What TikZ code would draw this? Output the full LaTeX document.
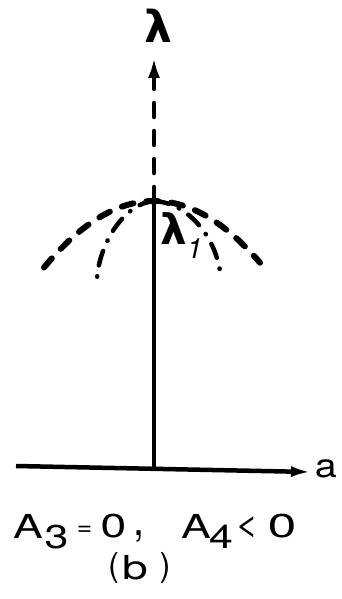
\documentclass[tikz,border=0pt]{standalone}
\usepackage{fontspec}
\setmainfont{TeX Gyre Heros}
\newfontfamily\symf{DejaVu Sans}
\usetikzlibrary{arrows.meta}
\tikzset{
  axisline/.style={line width=4.5pt},
  dashaxis/.style={line width=4.5pt, line cap=round, dash pattern=on 14pt off 14pt},
  domeline/.style={line width=6pt, line cap=round, dash pattern=on 12pt off 13pt},
  dotdash/.style={line width=4.5pt, line cap=round, dash pattern=on 15pt off 11pt on 0.5pt off 11pt},
  lbl/.style={inner sep=0pt, font=\fontsize{33}{36}\selectfont},
  bigtip/.style={-{Latex[length=21pt,width=12pt]}},
  smalltip/.style={-{Latex[length=20pt,width=11pt]}}
}
\newcommand\wide[2]{\scalebox{#1}[1]{#2}}
\begin{document}
\begin{tikzpicture}[x=1pt,y=-1pt]
\useasboundingbox (0,0) rectangle (341,599);
\coordinate (O) at (154,468);
\coordinate (top) at (154,201);
\coordinate (ytip) at (154,57);
\coordinate (xl) at (16,466);
\coordinate (xr) at (311,472);
\coordinate (il) at (97,279);
\coordinate (ir) at (221,279);
% axes
\draw[axisline] (O) -- (top);
\draw[dashaxis, bigtip] (top) -- (ytip);
\draw[axisline, smalltip] (xl) -- (xr);
% dome
\draw[domeline] plot[domain=-110:106, samples=60] ({154+\x},{201+0.0055*\x*\x});
% inner dash-dot curves
\draw[dotdash] (top) .. controls (125,203) and (99,243) .. (il);
\draw[dotdash] (top) .. controls (190,203) and (218,240) .. (ir);
% labels
\node[lbl, font=\fontsize{44}{46}\selectfont\bfseries] (lam) at (158,26) {\symf λ};
\node[lbl, anchor=north west] (lam1) at (160,212) {{\fontsize{42}{44}\selectfont\bfseries\symf λ}\raisebox{-14pt}{\fontsize{28}{30}\selectfont\itshape 1}};
\node[lbl] (a) at (326,469) {\wide{1.2}{a}};
% condition line
\node[lbl] (A3) at (28,526) {\wide{1.35}{A}};
\node[lbl] (s3) at (56.5,537) {\wide{1.3}{3}};
\node[lbl] (eq) at (84.5,531) {\scalebox{0.8}[0.75]{=}};
\node[lbl] (z1) at (113.5,526) {\wide{1.4}{0}};
\node[lbl] (cm) at (139.5,536) {\scalebox{1.2}[1.4]{,}};
\node[lbl] (A4) at (196,526) {\wide{1.35}{A}};
\node[lbl] (s4) at (221,537) {\wide{1.3}{4}};
\node[lbl] (lt) at (247,527) {\wide{1.25}{<}};
\node[lbl] (z2) at (282,526) {\wide{1.55}{0}};
% (b)
\node[lbl] (lp) at (113.5,568) {(};
\node[lbl] (bb) at (135,567.5) {\wide{1.4}{b}};
\node[lbl] (rp) at (165,568) {)};
\end{tikzpicture}
\end{document}
